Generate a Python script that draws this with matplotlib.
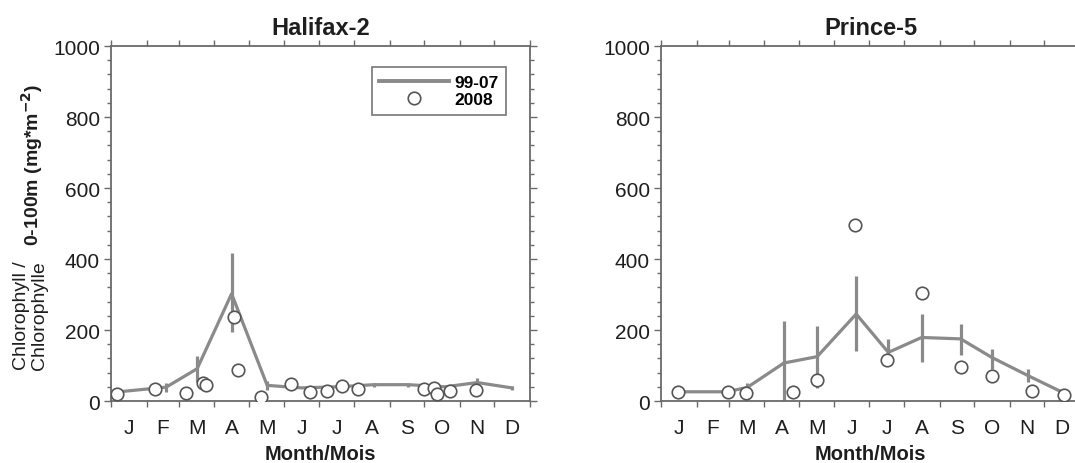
import numpy as np
import matplotlib.pyplot as plt
from matplotlib.lines import Line2D
from matplotlib.ticker import FixedLocator, MultipleLocator

plt.rcParams['font.family'] = ['Liberation Sans', 'DejaVu Sans']

months = ['J', 'F', 'M', 'A', 'M', 'J', 'J', 'A', 'S', 'O', 'N', 'D']
month_start = [0, 31, 59, 90, 120, 151, 181, 212, 243, 273, 304, 334, 365]

# Halifax-2: 1999-2007 mean (day of year) with range, and 2008 samples
hal_day = [10, 48, 75, 105, 136, 166, 197, 229, 259, 291, 319, 349]
hal_mean = [27, 39, 91, 302, 44, 37, 40, 46, 46, 40, 52, 37]
hal_lo = [27, 25, 54, 195, 30, 37, 40, 40, 40, 40, 40, 30]
hal_hi = [27, 52, 127, 417, 55, 37, 40, 52, 52, 40, 65, 42]
hal08_day = [5, 38, 65, 80, 83, 107, 111, 131, 157, 173, 188, 201, 215, 273, 281, 284, 295, 318]
hal08_val = [20, 34, 22, 51, 46, 237, 88, 10, 48, 25, 27, 42, 34, 34, 36, 20, 28, 30]

# Prince-5
pr_day = [15, 57, 75, 107, 136, 170, 198, 227, 261, 288, 320, 350]
pr_mean = [26, 26, 38, 107, 125, 245, 137, 179, 175, 123, 71, 24]
pr_lo = [26, 26, 25, 0, 38, 142, 110, 109, 130, 90, 53, 24]
pr_hi = [26, 26, 52, 225, 212, 353, 175, 245, 217, 147, 90, 24]
pr08_day = [15, 58, 74, 115, 136, 169, 197, 227, 261, 288, 323, 351]
pr08_val = [26, 26, 23, 26, 60, 496, 116, 304, 95, 71, 27, 17]

line_c = '#8a8a8a'
spine_c = '#6a6a6a'
circ_c = '#555555'
txt_c = '#1e1e1e'
fs = 15

fig = plt.figure(figsize=(10.75, 4.64), dpi=100)
ax1 = fig.add_axes([0.1033, 0.1336, 0.3898, 0.7651])
ax2 = fig.add_axes([0.6149, 0.1336, 0.3898, 0.7651])


def panel(ax, day, mean, lo, hi, d08, v08, title):
    mean = np.array(mean)
    yerr = [mean - np.array(lo), np.array(hi) - mean]
    ax.errorbar(day, mean, yerr=yerr, color=line_c, lw=2.3, elinewidth=2.3,
                capsize=0, zorder=2)
    ax.plot(d08, v08, 'o', ms=9, mfc='white', mec=circ_c, mew=1.2, zorder=3)
    ax.set_xlim(0, 365)
    ax.set_ylim(0, 1000)
    mids = [(a + b) / 2 for a, b in zip(month_start[:-1], month_start[1:])]
    ax.xaxis.set_major_locator(FixedLocator(mids))
    ax.set_xticklabels(months)
    halfs = sorted(set(month_start + mids))
    ax.xaxis.set_minor_locator(FixedLocator(halfs))
    ax.yaxis.set_major_locator(MultipleLocator(200))
    ax.yaxis.set_minor_locator(MultipleLocator(40))
    ax.tick_params(axis='x', which='major', length=0, pad=12, labelsize=fs,
                   labelcolor=txt_c)
    ax.tick_params(axis='x', which='minor', length=4, width=1,
                   color=spine_c, top=True, direction='out')
    ax.tick_params(axis='y', which='major', length=5, width=1, pad=3,
                   labelsize=fs, labelcolor=txt_c, color=spine_c, right=True)
    ax.tick_params(axis='y', which='minor', length=3, width=1,
                   color=spine_c, right=True)
    for s in ax.spines.values():
        s.set_color(spine_c)
        s.set_linewidth(1.3)
    ax.set_title(title, fontsize=17, fontweight='bold', color=txt_c, pad=9)
    ax.set_xlabel('Month/Mois', fontsize=14.5, fontweight='bold', color=txt_c,
                  labelpad=5)


panel(ax1, hal_day, hal_mean, hal_lo, hal_hi, hal08_day, hal08_val, 'Halifax-2')
panel(ax2, pr_day, pr_mean, pr_lo, pr_hi, pr08_day, pr08_val, 'Prince-5')

handles = [Line2D([], [], color=line_c, lw=2.8),
           Line2D([], [], ls='none', marker='o', ms=9, mfc='white',
                  mec=circ_c, mew=1.2)]
leg = ax1.legend(handles, ['99-07', '2008'], loc='upper right',
                 bbox_to_anchor=(0.943, 0.941), borderaxespad=0,
                 handlelength=4.0, fancybox=False,
                 prop={'weight': 'bold', 'size': 12.5}, numpoints=1,
                 borderpad=0.45, labelspacing=0.1, handletextpad=0.3)
leg.get_frame().set_edgecolor('#555555')
leg.get_frame().set_linewidth(1.2)

fig.text(0.0298, 0.644, '0-100m (mg*m$^{\\mathbf{-2}}$)', rotation=90,
         fontsize=14, fontweight='bold', color=txt_c, ha='center', va='center')
fig.text(0.0285, 0.319, 'Chlorophyll /\nChlorophylle', rotation=90,
         fontsize=14, color=txt_c, ha='center', va='center', linespacing=1.05)

fig.savefig('out.png', dpi=100)
